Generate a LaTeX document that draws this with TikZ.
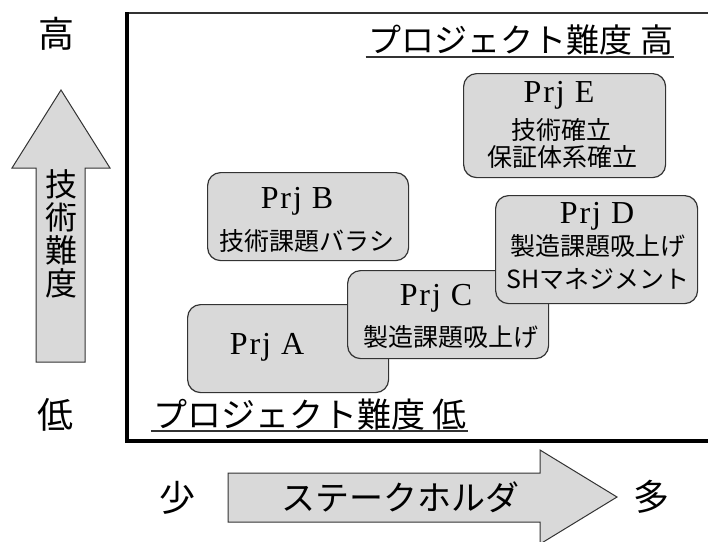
\documentclass[tikz,border=0pt]{standalone}
\usepackage{fontspec}
\setmainfont{Liberation Serif}
\newfontfamily\jp{Noto Sans CJK JP}
\definecolor{boxfill}{HTML}{D9D9D9}
\definecolor{edge}{HTML}{333333}
\tikzset{
  prjbox/.style={draw=edge, fill=boxfill, line width=1.2pt, rounded corners=13pt, anchor=north west, inner sep=0pt},
  bigarrow/.style={draw=edge, fill=boxfill, line width=1pt},
  prjlabel/.style={font=\fontsize{32}{32}\selectfont\addfontfeatures{LetterSpace=6}, inner sep=0pt, anchor=base},
  jline/.style={font=\jp\fontsize{25}{25}\selectfont, inner sep=0pt, anchor=base},
  biglabel/.style={font=\jp\fontsize{36}{36}\selectfont, inner sep=0pt, anchor=base},
  title/.style={inner sep=0pt, anchor=base},
}
\begin{document}
\begin{tikzpicture}[x=1pt,y=-1pt]
\useasboundingbox (0,0) rectangle (708,541);
% frame
\draw[line width=2pt, edge] (127,13) -- (708,13);
\draw[line width=4pt, black] (127,12) -- (127,441) -- (708,441);
% vertical arrow
\draw[bigarrow] (36,362) -- (85,362) -- (85,168) -- (110,168) -- (61,90) -- (12,168) -- (36,168) -- cycle;
\node[font=\jp\fontsize{32}{33}\selectfont, align=center, inner sep=0pt] (vtext) at (61,234) {技\\術\\難\\度};
% horizontal arrow
\draw[bigarrow] (228,473) -- (540,473) -- (540,450) -- (617,497) -- (540,544) -- (540,522) -- (228,522) -- cycle;
\node[font=\jp\fontsize{34}{34}\selectfont, inner sep=0pt, anchor=base] (htext) at (400,510) {ステークホルダ};
% axis labels
\node[biglabel] (hi) at (56,47.5) {高};
\node[biglabel] (lo) at (55,428.5) {低};
\node[biglabel] (few) at (177,511.5) {少};
\node[biglabel] (many) at (651,510.5) {多};
% titles
\node[title, font=\jp\fontsize{33}{33}\selectfont] (ttop) at (521,52) {プロジェクト難度 高};
\draw[line width=1.2pt, edge] ([xshift=-3pt,yshift=-5pt]ttop.base west) -- ([xshift=1pt,yshift=-5pt]ttop.base east);
\node[title, font=\jp\fontsize{34}{34}\selectfont] (tbot) at (310,427) {プロジェクト難度 低};
\draw[line width=1.2pt, edge] ([xshift=-2pt,yshift=-4pt]tbot.base west) -- ([xshift=1pt,yshift=-4pt]tbot.base east);
% Prj A
\node[prjbox, minimum width=201pt, minimum height=88pt] (A) at (187,304) {};
\node[prjlabel] (Atitle) at (267,354) {Prj A};
% Prj B
\node[prjbox, minimum width=201pt, minimum height=88pt] (B) at (207,172) {};
\node[prjlabel] (Btitle) at (297,208) {Prj B};
\node[jline] (Bline) at (307,250.5) {技術課題バラシ};
% Prj C
\node[prjbox, minimum width=201pt, minimum height=88pt] (C) at (347,270) {};
\node[prjlabel] (Ctitle) at (436,305) {Prj C};
\node[jline] (Cline) at (451,346.5) {製造課題吸上げ};
% Prj D
\node[prjbox, minimum width=202pt, minimum height=108pt] (D) at (495,195) {};
\node[prjlabel] (Dtitle) at (597,223) {Prj D};
\node[jline] (Dline1) at (598,255.5) {製造課題吸上げ};
\node[jline] (Dline2) at (598,288.5) {SHマネジメント};
% Prj E
\node[prjbox, minimum width=202pt, minimum height=104pt] (E) at (463,73) {};
\node[prjlabel] (Etitle) at (559,102) {Prj E};
\node[jline] (Eline1) at (561,139.5) {技術確立};
\node[jline] (Eline2) at (562,166.5) {保証体系確立};
\end{tikzpicture}
\end{document}
